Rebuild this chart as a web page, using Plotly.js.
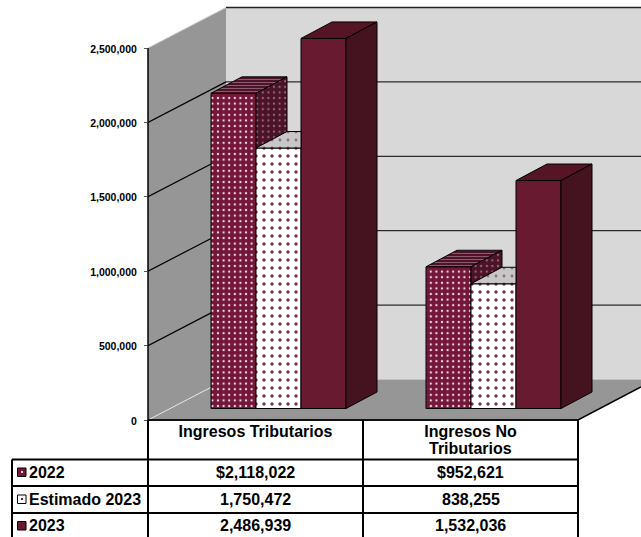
<!DOCTYPE html>
<html><head><meta charset="utf-8"><script src="https://cdn.plot.ly/plotly-3.0.1.min.js"></script>
<style>html,body{margin:0;padding:0;background:#fff;overflow:hidden}</style></head>
<body><div id="chart" style="width:641px;height:537px"></div>
<script>
const categories = ["Ingresos Tributarios", "Ingresos No Tributarios"];
const headerFirstLines = ["Ingresos Tributarios", "Ingresos No"];
const headerSecondLines = ["", "Tributarios"];
const seriesNames = ["2022", "Estimado 2023", "2023"];
const values2022 = [2118022, 952621];
const valuesEstimado = [1750472, 838255];
const values2023 = [2486939, 1532036];
const tickValues = [0, 500000, 1000000, 1500000, 2000000, 2500000];

const W = 641, H = 537, L = 148, B = 420;
const pxPerUnit = 215, pxPerValue = 148.8e-6;
const X = p => p / pxPerUnit, Y = p => p / pxPerValue;   // pixel lengths to data lengths
const yMax = Y(B);
const paperX = p => (p - L) / (W - L), paperY = p => (B - p) / B;

const series = [values2022, valuesEstimado, values2023];
const BASE = Y(11.5), groupLeft = X(63), barW = X(45), depthX = X(31), depthY = Y(16.5);
const styles = [
  {front:{bg:'#74163a',fg:'#f0d8e0',shape:'.',size:5.6,sol:.14},
   top:{bg:'#50122a',fg:'#8e6474',shape:'-',size:3,sol:.3},
   side:{bg:'#4c1228',fg:'#94687a',shape:'.',size:5.6,sol:.12}},
  {front:{bg:'#ffffff',fg:'#7e2e4c',shape:'.',size:8,sol:.14},
   top:{bg:'#c8c6c6',fg:'#86707a',shape:'.',size:8,sol:.1},
   side:{bg:'#c8c6c6',fg:'#86707a',shape:'.',size:8,sol:.1}},
  {front:{bg:'#681a30',fg:'#681a30',shape:'',size:6,sol:.1},
   top:{bg:'#561525',fg:'#561525',shape:'',size:6,sol:.1},
   side:{bg:'#45121f',fg:'#45121f',shape:'',size:6,sol:.1}}
];
const pat = s => s.shape ? {shape:s.shape,bgcolor:s.bg,fgcolor:s.fg,size:s.size,solidity:s.sol} : undefined;

const traces = [];
series.forEach((vals, s) => {
  traces.push({type:'bar', name:seriesNames[s], x:[0.607,1.607], y:vals, base:[BASE,BASE],
    hoverinfo:'skip', showlegend:false,
    marker:{color:styles[s].front.bg, pattern:pat(styles[s].front), line:{color:'#000',width:1}}});
});
const face = (xs, ys, st) => ({type:'scatter', mode:'lines', x:xs, y:ys, fill:'toself',
  fillcolor:st.bg, fillpattern:pat(st), line:{color:'#000',width:1}, hoverinfo:'skip',
  showlegend:false, cliponaxis:false});
categories.forEach((c, i) => {
  const left0 = i + groupLeft;
  series.forEach((vals, s) => {
    const top = vals[i] + BASE, x0 = left0 + s*barW, x1 = x0 + barW;
    const next = s < 2 ? series[s+1][i] + BASE : null, nx = x1;
    const st = styles[s];
    if (next !== null && next > top) {
      traces.push(face([x0,x0+depthX,nx,nx,x0],[top,top+depthY,top+depthY,top,top],st.top));
    } else {
      traces.push(face([x0,x0+depthX,x1+depthX,x1,x0],[top,top+depthY,top+depthY,top,top],st.top));
      const low = next !== null ? next : BASE;
      traces.push(face([x1,x1+depthX,x1+depthX,x1,x1],[top,top+depthY,low+depthY,low,top],st.side));
    }
  });
});

const wallX = X(78), wallY = Y(40.5), xEnd = X(W-L);
const wallTop = tickValues[5] + wallY;
const poly = (pts, fill) => ({type:'path', xref:'x', yref:'y', layer:'below',
  path:'M'+pts.map(p=>p[0]+','+p[1]).join('L')+'Z', fillcolor:fill, line:{width:0}});
const seg = (x0,y0,x1,y1,color,w,ref,layer) => ({type:'line', xref:ref||'x', yref:ref||'y', layer:layer||'below',
  x0,y0,x1,y1, line:{color,width:w}});
const frontR = X(578-L);
const shapes = [
  poly([[wallX,wallY],[xEnd,wallY],[xEnd,wallTop],[wallX,wallTop]],'#d8d8d8'),
  poly([[0,0],[wallX,wallY],[wallX,wallTop],[0,tickValues[5]]],'#969696'),
  poly([[0,0],[wallX,wallY],[xEnd,wallY],[xEnd,Y(33)],[frontR,0]],'#969696'),
  seg(0,0,wallX,wallY,'#e4e4e4',1),
  seg(0,tickValues[5],wallX,wallTop,'#cccccc',1),
  seg(frontR,0,xEnd,Y(33),'#000',1.5),
];
tickValues.slice(1).forEach((t,k) => {
  if (k < 4) shapes.push(seg(0,t,wallX,t+wallY,'#000',1.2));
  shapes.push(seg(wallX,t+wallY,xEnd,t+wallY,k<4?'#000':'#222',k<4?1:1.6));
});

// Table grid
const rowLines = [459.5,486,513,539], colLines = [148,363,578];
shapes.push(seg(paperX(148),paperY(420),paperX(578),paperY(420),'#111',2,'paper','above'));
rowLines.forEach(r => shapes.push(seg(paperX(12),paperY(r),paperX(578),paperY(r),'#000',2,'paper','above')));
shapes.push(seg(paperX(12),paperY(459.5),paperX(12),paperY(539),'#000',2,'paper','above'));
colLines.forEach(c => shapes.push(seg(paperX(c),paperY(420),paperX(c),paperY(539),'#000',2,'paper','above')));
shapes.push(seg(paperX(148),paperY(48),paperX(148),paperY(420),'#000',1.5,'paper','above'));

// Legend keys
const keyRows = [468,495,521.5];
const keyFill = ['#74163a','#ffffff','#681a30'], dot = ['#f3dfe6','#74163a',null];
keyRows.forEach((r,k) => {
  shapes.push({type:'rect',xref:'paper',yref:'paper',layer:'above',x0:paperX(17.5),x1:paperX(26),
    y0:paperY(r+8.5),y1:paperY(r),fillcolor:keyFill[k],line:{color:'#000',width:1}});
  if (dot[k]) shapes.push({type:'rect',xref:'paper',yref:'paper',layer:'above',x0:paperX(21),x1:paperX(23),
    y0:paperY(r+5),y1:paperY(r+3),fillcolor:dot[k],line:{width:0}});
});

const tf = {family:'"Liberation Sans", Arial, sans-serif', size:16, color:'#000'};
const boldText = t => '<b>'+t+'</b>';
const annotations = [];
const rowCenters = [472,499,525.5];
const fmt = v => v.toLocaleString('en-US');
seriesNames.forEach((n,s) => {
  annotations.push({xref:'paper',yref:'paper',x:paperX(27),y:paperY(rowCenters[s]),xanchor:'left',yanchor:'middle',
    text:boldText(n),showarrow:false,font:tf});
  categories.forEach((c,i) => annotations.push({xref:'x',yref:'paper',x:i+0.5,y:paperY(rowCenters[s]),xanchor:'center',yanchor:'middle',
    text:boldText((s===0?'$':'')+fmt(series[s][i])),showarrow:false,font:tf}));
});
headerSecondLines.forEach((t,i) => { if (t) annotations.push({xref:'x',yref:'paper',x:i+0.5,y:paperY(448),xanchor:'center',yanchor:'middle',
  text:boldText(t),showarrow:false,font:tf}); });

const layout = {
  width:W, height:H, margin:{l:L,r:0,t:0,b:H-B,pad:0}, paper_bgcolor:'#fff', plot_bgcolor:'rgba(0,0,0,0)',
  barmode:'group', bargap:0.372, bargroupgap:0, showlegend:false,
  xaxis:{range:[0,xEnd], tickmode:'array', tickvals:[0.5,1.5], ticktext:headerFirstLines.map(boldText),
    ticks:'', showgrid:false, zeroline:false, showline:false, tickfont:tf, automargin:false},
  yaxis:{range:[0,yMax], tickmode:'array', tickvals:tickValues, ticktext:tickValues.map(v=>boldText(fmt(v))),
    ticks:'outside', ticklen:3, tickwidth:1, tickcolor:'#555', ticklabelstandoff:5, ticklabelshift:1,
    showgrid:false, zeroline:false, showline:false,
    tickfont:{family:tf.family,size:10.5,color:'#000'}, automargin:false},
  shapes, annotations
};
Plotly.newPlot('chart', traces, layout, {displayModeBar:false, staticPlot:true});
</script></body></html>
